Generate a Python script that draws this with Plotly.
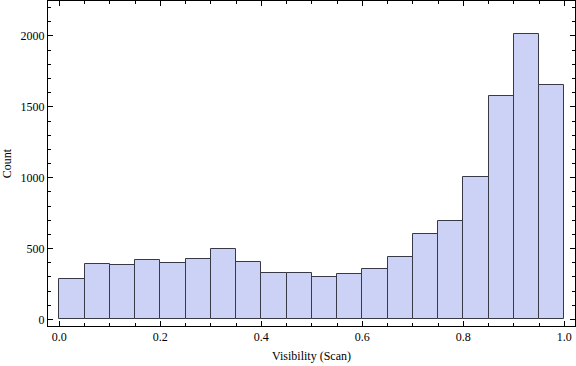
import plotly.graph_objects as go

bin_edges_start = [0.00, 0.05, 0.10, 0.15, 0.20, 0.25, 0.30, 0.35, 0.40, 0.45,
                   0.50, 0.55, 0.60, 0.65, 0.70, 0.75, 0.80, 0.85, 0.90, 0.95]
bin_width = 0.05
counts = [282, 388, 381, 416, 395, 423, 494, 402, 325, 325,
          296, 318, 353, 437, 600, 692, 1002, 1574, 2016, 1651]

x_ticks = [0.0, 0.2, 0.4, 0.6, 0.8, 1.0]
x_ticklabels = ["0.0", "0.2", "0.4", "0.6", "0.8", "1.0"]
y_ticks = [0, 500, 1000, 1500, 2000]
y_ticklabels = ["0", "500", "1000", "1500", "2000"]

centers = [s + bin_width / 2 for s in bin_edges_start]

FONT = "Liberation Serif, Times New Roman, serif"

fig = go.Figure(
    go.Bar(
        x=centers,
        y=counts,
        width=[bin_width] * len(counts),
        marker=dict(color="rgb(203,210,245)", line=dict(color="rgb(55,57,70)", width=1)),
        hoverinfo="x+y",
    )
)

axis_common = dict(
    showgrid=False,
    zeroline=False,
    showline=True,
    linecolor="black",
    linewidth=1,
    mirror="ticks",
    ticks="inside",
    tickcolor="black",
    tickwidth=1,
    ticklen=5,
    tickfont=dict(family=FONT, size=12, color="black"),
)

fig.update_xaxes(
    **axis_common,
    range=[-0.0224, 1.0212],
    tickvals=x_ticks,
    ticktext=x_ticklabels,
    minor=dict(dtick=0.05, tick0=0, ticks="inside", ticklen=3, tickcolor="black", tickwidth=1),
    title=dict(text="Visibility (Scan)", font=dict(family=FONT, size=12, color="black"), standoff=8),
)
fig.update_yaxes(
    **axis_common,
    range=[-47, 2247],
    tickvals=y_ticks,
    ticktext=y_ticklabels,
    minor=dict(dtick=100, tick0=0, ticks="inside", ticklen=3, tickcolor="black", tickwidth=1),
    title=dict(text="Count", font=dict(family=FONT, size=12, color="black"), standoff=6),
)

fig.update_layout(
    width=576,
    height=366,
    margin=dict(l=48, r=1, t=1, b=40, autoexpand=False),
    plot_bgcolor="white",
    paper_bgcolor="white",
    showlegend=False,
    bargap=0,
)

fig.write_html(
    "out.html",
    config={"displayModeBar": False},
    post_script="document.body.style.margin='0';document.body.style.overflow='hidden';",
)
